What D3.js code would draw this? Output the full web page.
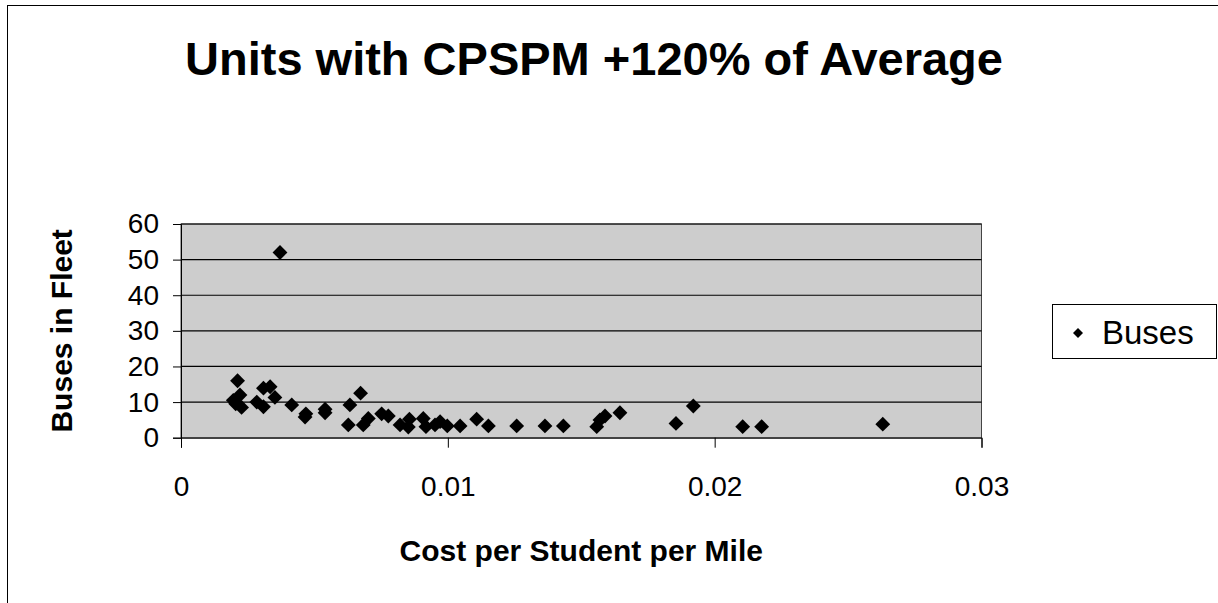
<!DOCTYPE html>
<html>
<head>
<meta charset="utf-8">
<script src="https://cdn.jsdelivr.net/npm/d3@7"></script>
<style>
  body { margin: 0; background: #fff; }
  svg { font-family: Arial, "Liberation Sans", sans-serif; }
</style>
</head>
<body>
<div id="chart"></div>
<script>
// cost per student per mile vs buses in fleet
const costs = [
  0.00371, 0.00212, 0.00196, 0.00221, 0.00227, 0.00205, 0.00284, 0.00309, 0.00309, 0.00334,
  0.00352, 0.00415, 0.00468, 0.00465, 0.00540, 0.00540, 0.00633, 0.00673, 0.00627, 0.00683,
  0.00702, 0.00752, 0.00777, 0.00821, 0.00856, 0.00852, 0.00908, 0.00918, 0.00952, 0.00971,
  0.00998, 0.01046, 0.01108, 0.01152, 0.01258, 0.01364, 0.01433, 0.01558, 0.01570, 0.01589,
  0.01645, 0.01855, 0.01920, 0.02105, 0.02176, 0.02630
];
const buses = [
  52, 16, 10.5, 12, 8.5, 9.5, 10, 8.7, 13.9, 14.3,
  11.3, 9.2, 6.7, 5.8, 8, 7, 9.2, 12.5, 3.6, 3.6,
  5.4, 6.7, 6.1, 3.6, 5.2, 3, 5.4, 3.1, 3.6, 4.5,
  3.3, 3.3, 5.2, 3.3, 3.3, 3.3, 3.3, 3.1, 5, 6.1,
  7, 4, 8.9, 3.1, 3.1, 3.8
];
const xTicks = [0, 0.01, 0.02, 0.03];
const yTicks = [0, 10, 20, 30, 40, 50, 60];
const seriesName = "Buses";

const width = 1218, height = 603;
const plot = { left: 181, right: 981.5, top: 224, bottom: 437.7 };

const svg = d3.select("#chart").append("svg")
  .attr("width", width)
  .attr("height", height);

// chart border (runs off the right and bottom edges)
svg.append("rect")
  .attr("x", 7.5).attr("y", 5.5)
  .attr("width", 1230).attr("height", 620)
  .attr("fill", "#fff")
  .attr("stroke", "#000");

const x = d3.scaleLinear().domain([0, 0.03]).range([plot.left, plot.right]);
const y = d3.scaleLinear().domain([0, 60]).range([plot.bottom, plot.top]);

// plot area
svg.append("rect")
  .attr("x", plot.left).attr("y", plot.top)
  .attr("width", plot.right - plot.left)
  .attr("height", plot.bottom - plot.top)
  .attr("fill", "#cdcdcd")
  .attr("stroke", "#444");

// gridlines
svg.append("g")
  .selectAll("line")
  .data(yTicks.slice(1))
  .enter()
  .append("line")
  .attr("x1", plot.left).attr("x2", plot.right)
  .attr("y1", d => y(d)).attr("y2", d => y(d))
  .attr("stroke", "#000")
  .attr("stroke-width", 1.2);

// axes
const xAxis = svg.append("g")
  .attr("transform", `translate(0,${plot.bottom})`)
  .call(d3.axisBottom(x).tickValues(xTicks).tickSize(10).tickPadding(28)
    .tickFormat(d => d === 0 ? "0" : d3.format(".2f")(d)));

const yAxis = svg.append("g")
  .attr("transform", `translate(${plot.left},0)`)
  .call(d3.axisLeft(y).tickValues(yTicks).tickSize(8).tickPadding(14));

[xAxis, yAxis].forEach(g => {
  g.select(".domain").attr("stroke", "#000");
  g.selectAll(".tick line").attr("stroke", "#000");
  g.selectAll(".tick text")
    .attr("fill", "#000")
    .style("font-size", "28px")
    .style("font-family", "Arial, 'Liberation Sans', sans-serif");
});

// points
const diamond = d3.symbol().type(d3.symbolSquare).size(110);
svg.append("g")
  .selectAll("path")
  .data(costs.map((c, i) => ({ c, b: buses[i] })))
  .enter()
  .append("path")
  .attr("d", diamond)
  .attr("transform", d => `translate(${x(d.c)},${y(d.b)}) rotate(45)`)
  .attr("fill", "#000");

// title
svg.append("text")
  .attr("x", 594)
  .attr("y", 75)
  .attr("text-anchor", "middle")
  .style("font-size", "47px")
  .style("font-weight", "bold")
  .text("Units with CPSPM +120% of Average");

// x-axis title
svg.append("text")
  .attr("x", (plot.left + plot.right) / 2)
  .attr("y", 561)
  .attr("text-anchor", "middle")
  .style("font-size", "30px")
  .style("font-weight", "bold")
  .text("Cost per Student per Mile");

// y-axis title
svg.append("text")
  .attr("transform", "rotate(-90)")
  .attr("x", -(plot.top + plot.bottom) / 2)
  .attr("y", 72)
  .attr("text-anchor", "middle")
  .style("font-size", "30px")
  .style("font-weight", "bold")
  .text("Buses in Fleet");

// legend
const legend = svg.append("g").attr("transform", "translate(1052,304)");
legend.append("rect")
  .attr("x", 0.5).attr("y", 0.5)
  .attr("width", 164).attr("height", 54)
  .attr("fill", "#fff")
  .attr("stroke", "#000");
legend.append("path")
  .attr("d", d3.symbol().type(d3.symbolSquare).size(50))
  .attr("transform", "translate(26,29) rotate(45)")
  .attr("fill", "#000");
legend.append("text")
  .attr("x", 50)
  .attr("y", 40)
  .style("font-size", "33px")
  .text(seriesName);
</script>
</body>
</html>
